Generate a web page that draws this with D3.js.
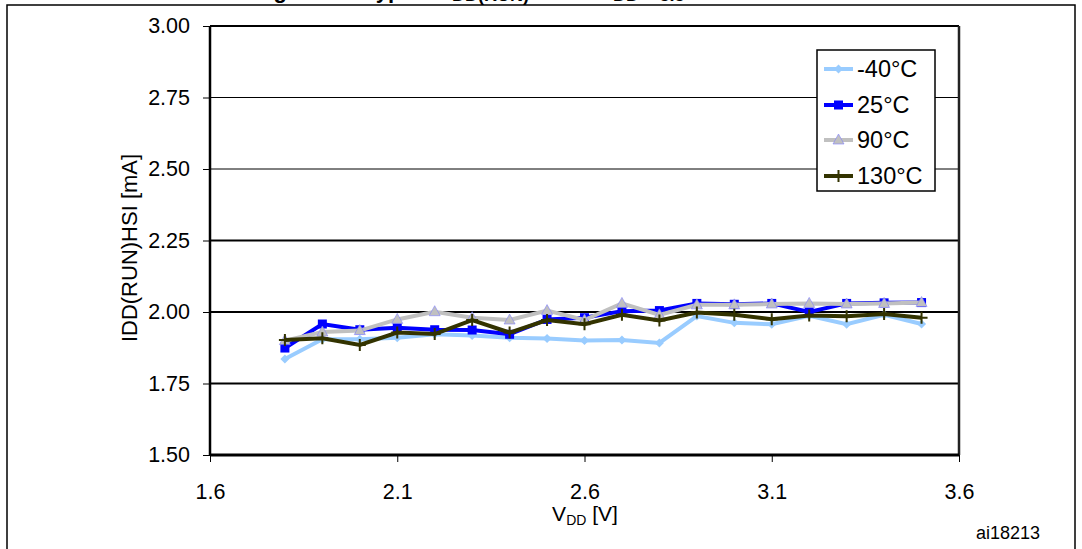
<!DOCTYPE html>
<html><head><meta charset="utf-8">
<script src="https://cdn.jsdelivr.net/npm/d3@7"></script>
<style>body{margin:0;background:#fff}svg{display:block;font-family:"Liberation Sans",Arial,sans-serif}</style>
</head><body>
<svg id="c" width="1082" height="549"></svg>
<script>
const vdd = [1.8,1.9,2.0,2.1,2.2,2.3,2.4,2.5,2.6,2.7,2.8,2.9,3.0,3.1,3.2,3.3,3.4,3.5];
const tM40 = [1.836,1.905,1.905,1.910,1.922,1.918,1.910,1.907,1.900,1.902,1.892,1.986,1.962,1.957,1.987,1.957,1.990,1.958];
const t25  = [1.874,1.958,1.938,1.945,1.938,1.937,1.922,1.974,1.980,2.003,2.005,2.030,2.027,2.030,2.000,2.030,2.032,2.033];
const t90  = [1.900,1.930,1.935,1.974,2.001,1.980,1.972,2.005,1.972,2.030,1.990,2.025,2.025,2.028,2.030,2.028,2.030,2.033];
const t130 = [1.902,1.908,1.885,1.928,1.923,1.972,1.928,1.972,1.957,1.990,1.970,1.998,1.990,1.975,1.988,1.985,1.993,1.980];
const seriesNames = ["-40°C","25°C","90°C","130°C"];
const xTicks = [1.6,2.1,2.6,3.1,3.6];
const yTicks = [1.50,1.75,2.00,2.25,2.50,2.75,3.00];

const colors = ["#99CCFF","#0000FF","#C0C0C0","#333300"];
const markers = ["diamond","square","triangle","plus"];
const series = [tM40,t25,t90,t130];

const svg = d3.select("#c");
const L=210,R=959,T=26,B=455;
const x = d3.scaleLinear().domain([1.6,3.6]).range([L,R]);
const y = d3.scaleLinear().domain([1.5,3.0]).range([B,T]);

// outer frame
svg.append("rect").attr("x",7).attr("y",5).attr("width",1068).attr("height",560)
  .attr("fill","none").attr("stroke","#000").attr("stroke-width",1.5);

// title (clipped by the top edge, only its lowest parts show)
const tt = svg.append("text").attr("y",-2.5).attr("font-weight","bold").attr("font-size",22);
tt.append("tspan").attr("x",254).text("Figure 16. Typical I");
tt.append("tspan").attr("x",452).attr("y",0.5).attr("font-size",18).text("DD(RUN)");
tt.append("tspan").attr("x",560).attr("y",-2.5).text("vs. V");
tt.append("tspan").attr("x",613).attr("y",0.5).attr("font-size",18).text("DD = 3.3");

// gridlines
yTicks.filter(v=>v>1.5 && v<3.0).forEach(v=>{
  svg.append("line").attr("x1",L).attr("x2",R).attr("y1",y(v)).attr("y2",y(v))
    .attr("stroke","#000").attr("stroke-width", v>=2.5 ? 1 : 2.2);
});
// plot border
svg.append("line").attr("x1",L).attr("x2",R).attr("y1",T).attr("y2",T).attr("stroke","#000").attr("stroke-width",2);
svg.append("line").attr("x1",R).attr("x2",R).attr("y1",T).attr("y2",B).attr("stroke","#222").attr("stroke-width",2.5);

// axes
const yAxis = d3.axisLeft(y).tickValues(yTicks).tickFormat(d3.format(".2f")).tickSize(7).tickPadding(13);
const gy = svg.append("g").attr("transform",`translate(${L},0)`).call(yAxis);
const xAxis = d3.axisBottom(x).tickValues(xTicks).tickFormat(d3.format(".1f")).tickSize(7).tickPadding(22);
const gx = svg.append("g").attr("transform",`translate(0,${B})`).call(xAxis);
[gx,gy].forEach(g=>{
  g.selectAll("text").attr("font-size",21.5).attr("fill","#000").attr("font-family","Liberation Sans, Arial, sans-serif");
  g.selectAll(".tick line").attr("stroke","#000").attr("stroke-width",1);
});
gy.select(".domain").attr("stroke","#000").attr("stroke-width",2.5).attr("d",`M0,${T}V${B}`);
gx.select(".domain").attr("stroke","#000").attr("stroke-width",3).attr("d",`M${L},0H${R}`);

// axis titles
svg.append("text").attr("transform",`translate(129,248) rotate(-90)`).attr("text-anchor","middle")
  .attr("dominant-baseline","central").attr("font-size",22).text("IDD(RUN)HSI [mA]");
const xt = svg.append("text").attr("x",585).attr("y",521).attr("text-anchor","middle").attr("font-size",21);
xt.append("tspan").text("V");
xt.append("tspan").attr("font-size",14).attr("dy",4).text("DD");
xt.append("tspan").attr("dy",-4).text(" [V]");
svg.append("text").attr("x",1040).attr("y",539).attr("text-anchor","end").attr("font-size",18).text("ai18213");

function marker(g, type, color, cx, cy){
  if(type==="diamond"){
    g.append("path").attr("d",`M${cx},${cy-4.5}L${cx+4.5},${cy}L${cx},${cy+4.5}L${cx-4.5},${cy}Z`).attr("fill",color);
  } else if(type==="square"){
    g.append("rect").attr("x",cx-4.5).attr("y",cy-4.5).attr("width",9).attr("height",9).attr("fill",color);
  } else if(type==="triangle"){
    g.append("path").attr("d",`M${cx},${cy-6}L${cx+5.5},${cy+4}L${cx-5.5},${cy+4}Z`).attr("fill",color)
      .attr("stroke","#8080ff").attr("stroke-width",0.6);
  } else {
    g.append("path").attr("d",`M${cx-6},${cy}H${cx+6}M${cx},${cy-6}V${cy+6}`).attr("stroke",color).attr("stroke-width",2);
  }
}

const line = d3.line().x(d=>x(d[0])).y(d=>y(d[1]));
series.forEach((vals,i)=>{
  const g = svg.append("g");
  const pts = vdd.map((v,j)=>[v,vals[j]]);
  g.append("path").attr("d",line(pts)).attr("fill","none").attr("stroke",colors[i])
    .attr("stroke-width",4).attr("stroke-linejoin","miter");
  pts.forEach(p=>marker(g,markers[i],colors[i],x(p[0]),y(p[1])));
});

// legend
const lg = svg.append("g");
lg.append("rect").attr("x",817).attr("y",50).attr("width",118).attr("height",141)
  .attr("fill","#fff").attr("stroke","#000").attr("stroke-width",1.5);
const rowY = [69,105,140,176];
seriesNames.forEach((n,i)=>{
  lg.append("line").attr("x1",824).attr("x2",853).attr("y1",rowY[i]).attr("y2",rowY[i])
    .attr("stroke",colors[i]).attr("stroke-width",4);
  marker(lg,markers[i],colors[i],838.5,rowY[i]);
  lg.append("text").attr("x",857).attr("y",rowY[i]).attr("dominant-baseline","central")
    .attr("font-size",23.5).text(n);
});
</script>
</body></html>
